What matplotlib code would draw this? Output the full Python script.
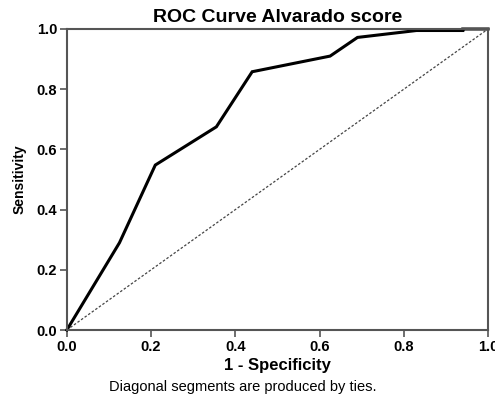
import matplotlib.pyplot as plt

plt.rcParams['font.family'] = ['Liberation Sans', 'DejaVu Sans']

# ROC points
fpr = [0.0, 0.125, 0.21, 0.355, 0.44, 0.625, 0.69, 0.83, 0.94, 0.94, 1.0]
tpr = [0.0, 0.29, 0.548, 0.675, 0.858, 0.91, 0.972, 0.995, 0.995, 1.0, 1.0]
ref = [0.0, 1.0]
ticks = [0.0, 0.2, 0.4, 0.6, 0.8, 1.0]

fig = plt.figure(figsize=(4.95, 3.94), dpi=100)
ax = fig.add_axes([0.135, 0.1624, 0.851, 0.764])

ax.plot(ref, ref, color='#444444', lw=0.9, ls=(0, (2, 1.5)))
ax.plot(fpr, tpr, color='black', lw=2.2, solid_joinstyle='miter', clip_on=False)

ax.set_xlim(0, 1)
ax.set_ylim(0, 1)
ax.set_xticks(ticks)
ax.set_yticks(ticks)
ax.set_xticklabels([f"{t:.1f}" for t in ticks], fontweight='bold', fontsize=10.5)
ax.set_yticklabels([f"{t:.1f}" for t in ticks], fontweight='bold', fontsize=10.5)
ax.tick_params(direction='out', length=5, width=1.2, color='#555555', pad=2)
for s in ax.spines.values():
    s.set_color('#555555')
    s.set_linewidth(1.5)

ax.set_title("ROC Curve Alvarado score", fontweight='bold', fontsize=14, pad=5)
ax.set_xlabel("1 - Specificity", fontweight='bold', fontsize=12, labelpad=3)
ax.set_ylabel("Sensitivity", fontweight='bold', fontsize=10, labelpad=7)
fig.text(0.49, 0.008, "Diagonal segments are produced by ties.", ha='center', fontsize=10.5)

plt.savefig("out.png", dpi=100)
